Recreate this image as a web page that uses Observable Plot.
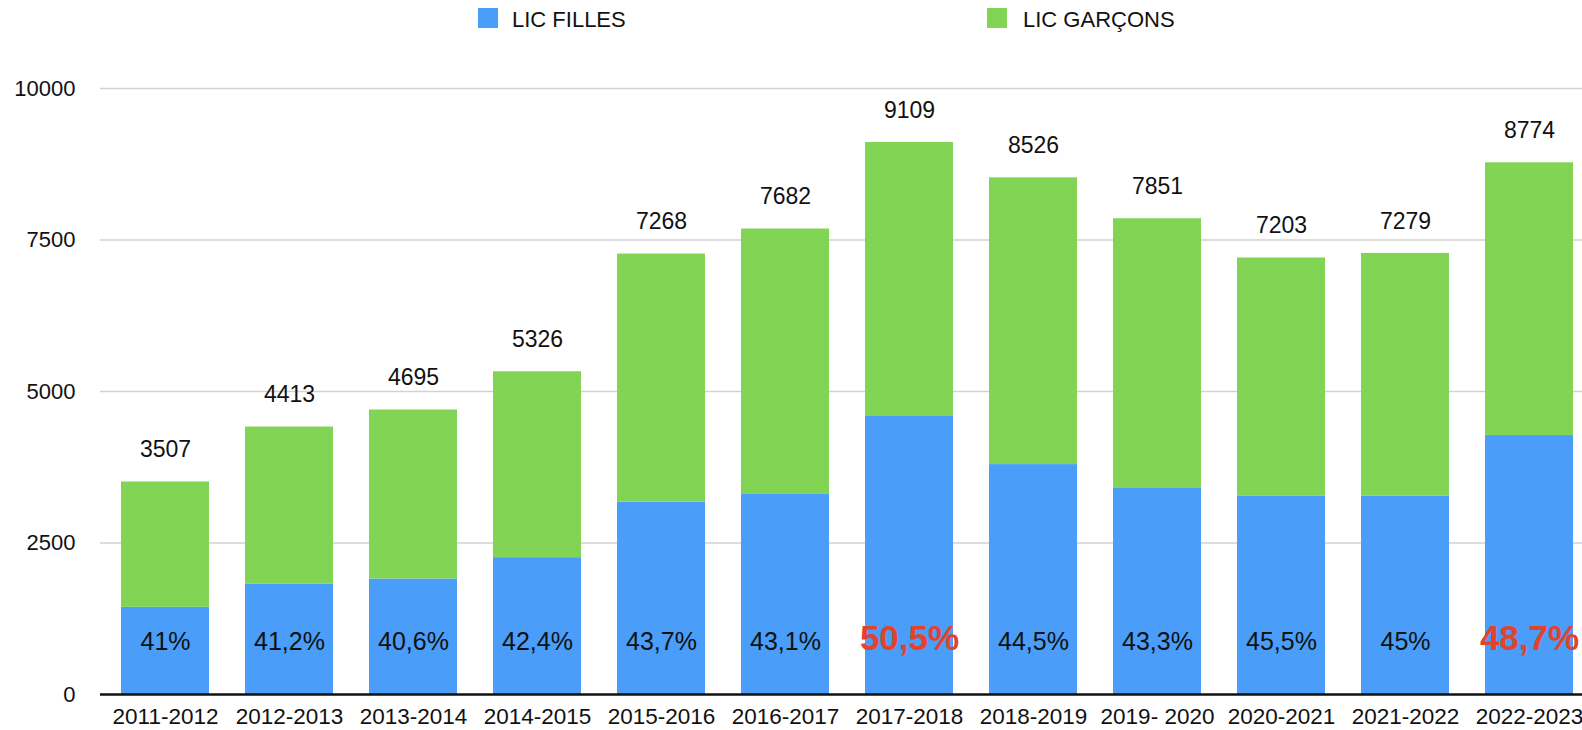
<!DOCTYPE html>
<html>
<head>
<meta charset="utf-8">
<script src="https://cdn.jsdelivr.net/npm/d3@7"></script>
<script src="https://cdn.jsdelivr.net/npm/@observablehq/plot@0.6"></script>
<style>
  html, body { margin: 0; padding: 0; background: #fff; overflow: hidden; }
  body { width: 1582px; height: 730px; font-family: Helvetica, "Liberation Sans", Arial, sans-serif; }
  #legend { position: relative; height: 40px; width: 1582px; }
  .sw { position: absolute; top: 8px; width: 20px; height: 20px; }
  .lt { position: absolute; top: 0; height: 40px; line-height: 40px; font-size: 22px; color: #111; }
  #chart svg { max-width: none !important; display: block; }
</style>
</head>
<body>
<div id="legend"></div>
<div id="chart"></div>
<script>
const years = ["2011-2012", "2012-2013", "2013-2014", "2014-2015", "2015-2016", "2016-2017",
               "2017-2018", "2018-2019", "2019- 2020", "2020-2021", "2021-2022", "2022-2023"];
const totals  = [3507, 4413, 4695, 5326, 7268, 7682, 9109, 8526, 7851, 7203, 7279, 8774];
const filles  = [1438, 1818, 1906, 2258, 3176, 3311, 4600, 3794, 3399, 3277, 3276, 4273];
const garcons = [2069, 2595, 2789, 3068, 4092, 4371, 4509, 4732, 4452, 3926, 4003, 4501];
const pctLabels = ["41%", "41,2%", "40,6%", "42,4%", "43,7%", "43,1%", "50,5%", "44,5%", "43,3%", "45,5%", "45%", "48,7%"];
const highlighted = ["2017-2018", "2022-2023"];
const seriesNames = ["LIC FILLES", "LIC GARÇONS"];
const seriesColors = ["#4A9DF8", "#82D455"];
const yTicks = [0, 2500, 5000, 7500, 10000];

const FONT = 'Helvetica, "Liberation Sans", Arial, sans-serif';

// legend
const legend = document.getElementById("legend");
const legendPos = [[478, 512], [987, 1023]];
seriesNames.forEach((name, i) => {
  const sw = document.createElement("span");
  sw.className = "sw";
  sw.style.left = legendPos[i][0] + "px";
  sw.style.background = seriesColors[i];
  const t = document.createElement("span");
  t.className = "lt";
  t.style.left = legendPos[i][1] + "px";
  t.textContent = name;
  legend.appendChild(sw);
  legend.appendChild(t);
});

const long = [];
years.forEach((y, i) => {
  long.push({year: y, series: seriesNames[0], value: filles[i]});
  long.push({year: y, series: seriesNames[1], value: garcons[i]});
});
const totalRows = years.map((y, i) => ({year: y, total: totals[i]}));
const pctRows = years.map((y, i) => ({year: y, label: pctLabels[i], hi: highlighted.includes(y)}));

const chart = Plot.plot({
  width: 1594,
  height: 690,
  marginLeft: 100,
  marginRight: 0,
  marginTop: 48,
  marginBottom: 36,
  style: {fontFamily: FONT, background: "white", color: "#111", overflow: "visible"},
  x: {domain: years, paddingInner: 0.2924, paddingOuter: 0.153},
  y: {domain: [0, 10000]},
  color: {domain: seriesNames, range: seriesColors},
  marks: [
    Plot.ruleY(yTicks.filter(d => d > 0), {stroke: "#d2d2d2", strokeWidth: 1.5}),
    Plot.barY(long, {x: "year", y: "value", fill: "series", order: seriesNames}),
    Plot.ruleY([0], {stroke: "#111", strokeWidth: 2.5}),
    Plot.text(totalRows, {x: "year", y: "total", text: d => String(d.total), dy: -32,
      fontSize: 23, fill: "#111", fontFamily: FONT}),
    Plot.text(pctRows.filter(d => !d.hi), {x: "year", frameAnchor: "bottom", text: "label", dy: -45,
      fontSize: 25, fill: "#111", fontFamily: FONT}),
    Plot.text(pctRows.filter(d => d.hi), {x: "year", frameAnchor: "bottom", text: "label", dy: -45,
      fontSize: 35, fontWeight: "bold", fill: "#E2432C", fontFamily: FONT}),
    Plot.axisX({tickSize: 0, tickPadding: 14, fontSize: 22.5, label: null, fontFamily: FONT}),
    Plot.axisY({ticks: yTicks, tickFormat: "d", tickSize: 0, tickPadding: 25, fontSize: 22, label: null, fontFamily: FONT})
  ]
});
document.getElementById("chart").appendChild(chart);
</script>
</body>
</html>
